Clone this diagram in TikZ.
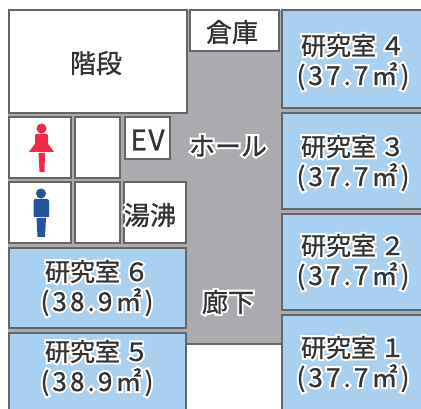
\documentclass[tikz,border=0pt]{standalone}
\usepackage{fontspec}
\setmainfont[FakeBold=1]{Noto Sans CJK JP}
\newfontfamily\halofont[FakeBold=17]{Noto Sans CJK JP}
\newfontfamily\widefont[FakeBold=1,LetterSpace=12]{Noto Sans CJK JP}
\newfontfamily\widehalo[FakeBold=17,LetterSpace=12]{Noto Sans CJK JP}
\definecolor{flx}{HTML}{ABABAF}
\definecolor{rmx}{HTML}{A9D1EF}
\definecolor{wlx}{HTML}{666666}
\definecolor{txx}{HTML}{333333}
\definecolor{rdx}{HTML}{EE2A45}
\definecolor{bux}{HTML}{22559C}
\tikzset{
    wall/.style={draw=wlx,line width=1.8pt},
    room/.style={wall,fill=rmx},
    cell/.style={wall,fill=white},
    lab/.style={text=txx,font=\fontsize{26}{30}\selectfont,align=center,inner sep=0pt},
    roomlab/.style={lab,font=\fontsize{25}{30}\selectfont}
}
\newcommand{\halo}[1]{\leavevmode\rlap{\halofont\textcolor{white}{#1}}#1}
\newcommand{\roomtext}[2]{\halo{研究室\hspace{4pt}#1}\\\rlap{\widehalo\fontsize{26}{30}\selectfont\textcolor{white}{(#2㎡)}}{\widefont\fontsize{26}{30}\selectfont(#2㎡)}}
\begin{document}
\begin{tikzpicture}[x=1pt,y=-1pt]
    \useasboundingbox (0,0) rectangle (421,409);
    \clip (0,0) rectangle (421,409);

    % floor
    \fill [flx] (8,112) rectangle (187,335);
    \fill [flx] (187,10) rectangle (282,344);
    \fill [flx] (282,10) rectangle (421,330);
    \draw [wlx,line width=1.2pt] (187,344) -- (282,344);

    % rooms on the right
    \draw [room] (282,10)  rectangle (425,108);
    \draw [room] (282,113) rectangle (425,209);
    \draw [room] (282,214) rectangle (425,310);
    \draw [room] (282,315) rectangle (425,415);

    % rooms on the left
    \draw [cell] (9,10)    rectangle (187,113);
    \draw [cell] (190,10)  rectangle (279,51);
    \draw [room] (9,248)   rectangle (186,328);
    \draw [room] (9,333)   rectangle (186,415);

    \draw [cell] (9,117)   rectangle (71,178);
    \draw [cell] (75,117)  rectangle (120,178);
    \draw [cell] (125,117) rectangle (170,159);
    \draw [cell] (9,182)   rectangle (71,243);
    \draw [cell] (75,182)  rectangle (120,243);
    \draw [cell] (124,182) rectangle (186,243);

    % woman
    \fill [rdx] (41.5,128.5) circle (5);
    \fill [rdx, rounded corners=1.5pt] (35,134) -- (48,134) -- (48,146) -- (35,146) -- cycle;
    \fill [rdx] (35.5,143) -- (47.5,143) -- (54,152) -- (29,152) -- cycle;
    \fill [rdx] (38.5,153) -- (45,153) -- (44.5,172) -- (39.5,172) -- cycle;
    % man
    \fill [bux] (41,193.5) circle (5);
    \fill [bux, rounded corners=2pt] (33.5,199) rectangle (49,217);
    \fill [bux] (33.5,210) rectangle (49,217);
    \fill [bux] (36.5,218) -- (46,218) -- (45,237) -- (37.5,237) -- cycle;

    % labels
    \node (stairs)  [lab] at (96,63)   {階段};
    \node (store)   [lab] at (232,32)  {倉庫};
    \node (lift)    [lab] at (147.5,140) {\fontsize{28}{30}\selectfont E\hspace{1.5pt}V};
    \node (kettle)  [lab] at (150,215) {\halo{湯沸}};
    \node (hall)    [lab] at (228,146) {\halo{ホール}};
    \node (corr)    [lab] at (228,302) {\halo{廊下}};
    \node (lab4)    [roomlab] at (353,62)  {\roomtext{４}{37.7}};
    \node (lab3)    [roomlab] at (353,163) {\roomtext{３}{37.7}};
    \node (lab2)    [roomlab] at (353,262) {\roomtext{２}{37.7}};
    \node (lab1)    [roomlab] at (353,364) {\roomtext{１}{37.7}};
    \node (lab6)    [roomlab] at (97,288)  {\roomtext{６}{38.9}};
    \node (lab5)    [roomlab] at (97,368)  {\roomtext{５}{38.9}};
\end{tikzpicture}
\end{document}
